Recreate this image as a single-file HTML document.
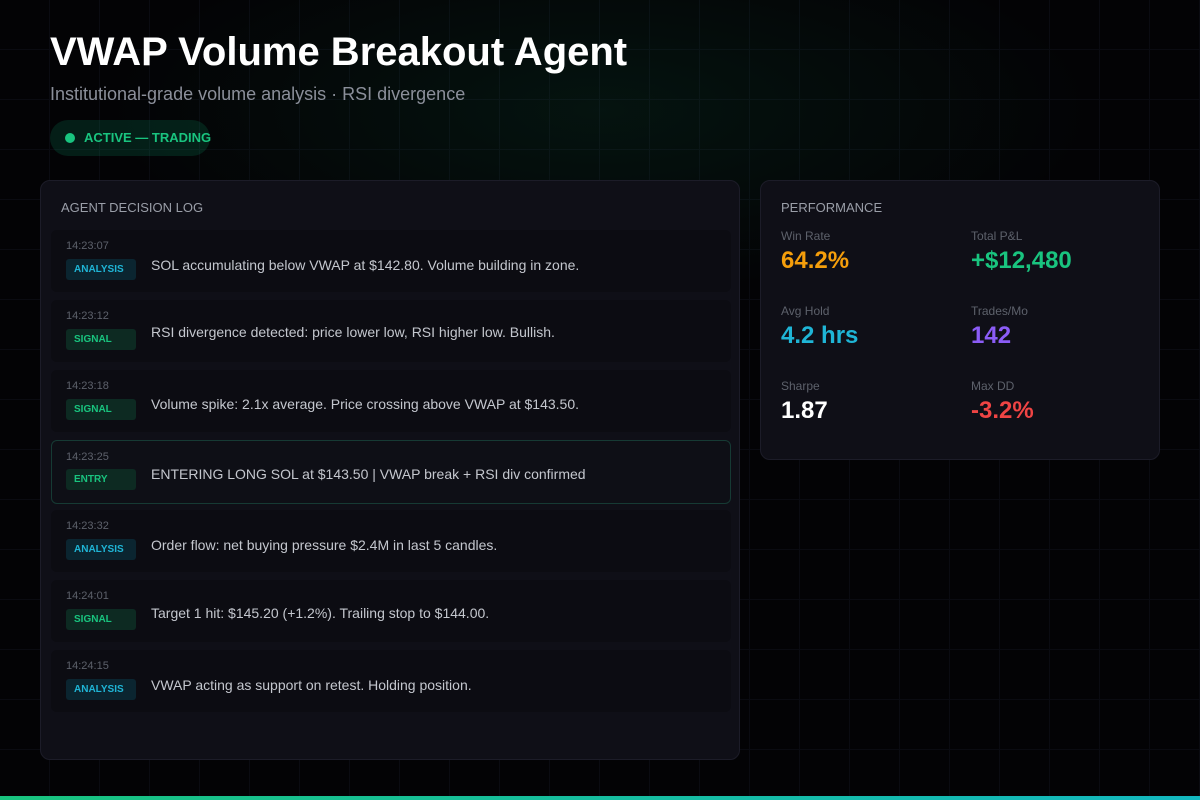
<!DOCTYPE html>
<html><head><meta charset="utf-8"><style>
*{margin:0;padding:0;box-sizing:border-box}
body{width:1200px;height:800px;overflow:hidden;background:#030305;font-family:"Liberation Sans",sans-serif;position:relative}
.grid{position:absolute;inset:0;background-image:linear-gradient(#0a0b11 1px,transparent 1px),linear-gradient(90deg,#0a0b11 1px,transparent 1px);background-size:50px 50px;background-position:-1px -1px}
.glow{position:absolute;inset:0;background:radial-gradient(ellipse 700px 260px at 600px 110px,rgba(16,120,80,0.14),transparent 70%)}
.abs{position:absolute}
h1{position:absolute;left:50px;top:30px;font-size:40px;color:#fff;font-weight:bold}
.sub{left:50px;top:84px;font-size:18px;color:#8b8f9a}
.badge{left:50px;top:120px;width:160px;height:36px;border-radius:18px;background:rgba(16,185,129,0.15);color:#19c47f;font-weight:bold;font-size:13px;line-height:36px;padding-left:34px;white-space:nowrap}
.badge::before{content:"";position:absolute;left:15px;top:13px;width:10px;height:10px;border-radius:50%;background:#19c47f}
.panel{background:#0f0f17;border:1px solid #1c1c28;border-radius:10px}
.ptitle{font-size:13px;color:#9a9ea8}
.row{position:absolute;left:10px;width:680px;height:62px;background:#0c0c12;border-radius:6px}
.row.entry{border:1px solid #163a34;background:#0e0f16}
.time{position:absolute;left:15px;top:10px;font-size:11px;color:#5d616b}
.tag{position:absolute;left:15px;top:29px;width:70px;height:21px;border-radius:3px;font-size:10px;font-weight:bold;line-height:21px;padding-left:8px}
.an{background:#0b2530;color:#1fb5d6}.sg{background:#0d2a22;color:#19c47f}
.msg{position:absolute;left:100px;top:27px;font-size:14px;color:#c4c7ce}
.lbl{font-size:12px;color:#5d616b}
.val{font-size:24px;font-weight:bold}
.bar{left:0;top:796px;width:1200px;height:4px;background:linear-gradient(90deg,#19c47f,#13b8c0)}
</style></head><body>
<div class="grid"></div>
<div class="glow"></div>
<h1>VWAP Volume Breakout Agent</h1>
<div class="abs sub">Institutional-grade volume analysis · RSI divergence</div>
<div class="abs badge">ACTIVE — TRADING</div>

<div class="abs panel" style="left:40px;top:180px;width:700px;height:580px">
<div class="abs ptitle" style="left:20px;top:19px">AGENT DECISION LOG</div>
<div class="row" style="top:49px"><div class="time">14:23:07</div><div class="tag an">ANALYSIS</div><div class="msg">SOL accumulating below VWAP at $142.80. Volume building in zone.</div></div>
<div class="row" style="top:119px"><div class="time">14:23:12</div><div class="tag sg">SIGNAL</div><div class="msg" style="top:24px">RSI divergence detected: price lower low, RSI higher low. Bullish.</div></div>
<div class="row" style="top:189px"><div class="time">14:23:18</div><div class="tag sg">SIGNAL</div><div class="msg" style="top:26px">Volume spike: 2.1x average. Price crossing above VWAP at $143.50.</div></div>
<div class="row entry" style="top:259px;height:64px"><div class="time" style="left:14px">14:23:25</div><div class="tag sg" style="left:14px;top:28px">ENTRY</div><div class="msg" style="left:99px;top:25px">ENTERING LONG SOL at $143.50 | VWAP break + RSI div confirmed</div></div>
<div class="row" style="top:329px"><div class="time">14:23:32</div><div class="tag an">ANALYSIS</div><div class="msg">Order flow: net buying pressure $2.4M in last 5 candles.</div></div>
<div class="row" style="top:399px"><div class="time">14:24:01</div><div class="tag sg">SIGNAL</div><div class="msg" style="top:25px">Target 1 hit: $145.20 (+1.2%). Trailing stop to $144.00.</div></div>
<div class="row" style="top:469px"><div class="time">14:24:15</div><div class="tag an">ANALYSIS</div><div class="msg">VWAP acting as support on retest. Holding position.</div></div>
</div>

<div class="abs panel" style="left:760px;top:180px;width:400px;height:280px">
<div class="abs ptitle" style="left:20px;top:19px">PERFORMANCE</div>
<div class="abs" style="left:20px;top:48px"><div class="lbl">Win Rate</div><div class="val" style="color:#f59e0b;margin-top:4px">64.2%</div></div>
<div class="abs" style="left:210px;top:48px"><div class="lbl">Total P&amp;L</div><div class="val" style="color:#19c47f;margin-top:4px">+$12,480</div></div>
<div class="abs" style="left:20px;top:123px"><div class="lbl">Avg Hold</div><div class="val" style="color:#1fb5d6;margin-top:4px">4.2 hrs</div></div>
<div class="abs" style="left:210px;top:123px"><div class="lbl">Trades/Mo</div><div class="val" style="color:#8b5cf6;margin-top:4px">142</div></div>
<div class="abs" style="left:20px;top:198px"><div class="lbl">Sharpe</div><div class="val" style="color:#fff;margin-top:4px">1.87</div></div>
<div class="abs" style="left:210px;top:198px"><div class="lbl">Max DD</div><div class="val" style="color:#ef4444;margin-top:4px">-3.2%</div></div>
</div>
<div class="abs bar"></div>
</body></html>
